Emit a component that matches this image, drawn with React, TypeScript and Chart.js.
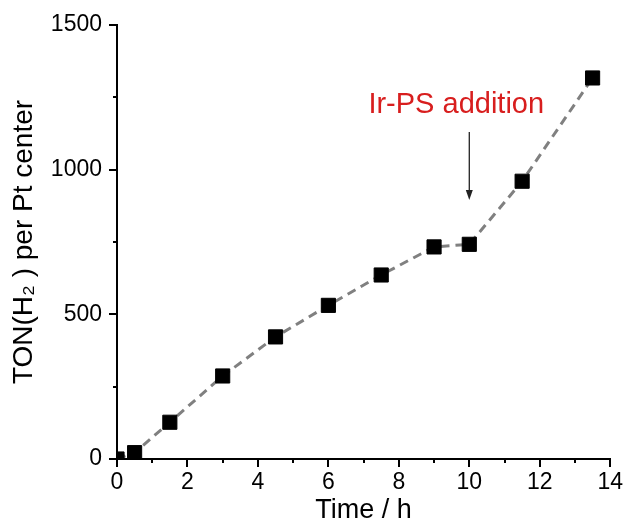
import React, { useEffect, useRef } from "react";
import { Chart, registerables } from "chart.js";

Chart.register(...registerables);

// Data
const timeH = [0, 0.5, 1.5, 3, 4.5, 6, 7.5, 9, 10, 11.5, 13.5];
const tonH2 = [0, 22, 127, 287, 422, 531, 636, 733, 742, 960, 1317];

// Axis tick settings
const xMajorTicks = [0, 2, 4, 6, 8, 10, 12, 14];
const xMinorTicks = [1, 3, 5, 7, 9, 11, 13];
const yMajorTicks = [0, 500, 1000, 1500];
const yMinorTicks = [250, 750, 1250];

// Annotation (data units)
const annotationText = "Ir-PS addition";
const annotationTextPos = { x: 9.63, y: 1223 };
const arrowX = 10;
const arrowFromY = 1130;
const arrowToY = 895;

const FONT = "'Liberation Sans', Arial, Helvetica, sans-serif";

const tickPlugin = {
  id: "customTicks",
  afterDraw(chart: any) {
    const ctx = chart.ctx;
    const xs = chart.scales.x;
    const ys = chart.scales.y;
    const area = chart.chartArea;
    ctx.save();
    ctx.strokeStyle = "#000";
    ctx.lineWidth = 2;
    ctx.beginPath();
    const drawX = (v: number, len: number) => {
      const px = Math.round(xs.getPixelForValue(v));
      ctx.moveTo(px, area.bottom);
      ctx.lineTo(px, area.bottom + len);
    };
    const drawY = (v: number, len: number) => {
      const py = Math.round(ys.getPixelForValue(v));
      ctx.moveTo(area.left, py);
      ctx.lineTo(area.left - len, py);
    };
    xMajorTicks.forEach((v) => drawX(v, 8));
    xMinorTicks.forEach((v) => drawX(v, 4));
    yMajorTicks.forEach((v) => drawY(v, 8));
    yMinorTicks.forEach((v) => drawY(v, 4));
    ctx.stroke();

    // annotation arrow
    const ax = xs.getPixelForValue(arrowX);
    const ay1 = ys.getPixelForValue(arrowFromY);
    const ay2 = ys.getPixelForValue(arrowToY);
    ctx.strokeStyle = "#222";
    ctx.fillStyle = "#222";
    ctx.lineWidth = 1.3;
    ctx.beginPath();
    ctx.moveTo(ax, ay1);
    ctx.lineTo(ax, ay2 - 8);
    ctx.stroke();
    ctx.beginPath();
    ctx.moveTo(ax - 3.5, ay2 - 10);
    ctx.lineTo(ax + 3.5, ay2 - 10);
    ctx.lineTo(ax, ay2);
    ctx.closePath();
    ctx.fill();

    // annotation text
    ctx.fillStyle = "#d81e1e";
    ctx.font = `29px ${FONT}`;
    ctx.textAlign = "center";
    ctx.textBaseline = "middle";
    ctx.fillText(
      annotationText,
      xs.getPixelForValue(annotationTextPos.x),
      ys.getPixelForValue(annotationTextPos.y)
    );
    ctx.restore();
  },
};

export default function App() {
  const canvasRef = useRef<HTMLCanvasElement | null>(null);

  useEffect(() => {
    if (!canvasRef.current) return;
    const chart = new Chart(canvasRef.current, {
      type: "line",
      data: {
        datasets: [
          {
            data: timeH.map((t, i) => ({ x: t, y: tonH2[i] })),
            borderColor: "#808080",
            borderWidth: 3,
            borderDash: [9, 6],
            pointStyle: "rect",
            pointRadius: 10,
            pointBorderWidth: 1,
            pointBackgroundColor: "#000",
            pointBorderColor: "#000",
            tension: 0,
            clip: 0,
          } as any,
        ],
      },
      options: {
        animation: false,
        responsive: true,
        maintainAspectRatio: false,
        layout: { padding: { top: 25, right: 14, left: 0, bottom: 0 } },
        plugins: { legend: { display: false }, tooltip: { enabled: false } },
        scales: {
          x: {
            type: "linear",
            min: 0,
            max: 14,
            ticks: {
              stepSize: 2,
              color: "#000",
              font: { family: FONT, size: 23 },
              padding: 2,
              maxRotation: 0,
              autoSkip: false,
              callback: (v: any) => String(v),
            },
            grid: {
              display: true,
              drawOnChartArea: false,
              drawTicks: true,
              tickLength: 8,
              color: "rgba(0,0,0,0)",
            },
            border: { display: true, color: "#000", width: 2 },
            title: {
              display: true,
              text: "Time / h",
              color: "#000",
              font: { family: FONT, size: 27, lineHeight: 1 },
              padding: { top: 0, bottom: 0 },
            },
            afterFit: (s: any) => {
              s.height = 65;
            },
          },
          y: {
            type: "linear",
            min: 0,
            max: 1500,
            ticks: {
              stepSize: 500,
              color: "#000",
              font: { family: FONT, size: 23 },
              padding: 7,
              callback: (v: any) => String(v),
            },
            grid: {
              display: true,
              drawOnChartArea: false,
              drawTicks: true,
              tickLength: 8,
              color: "rgba(0,0,0,0)",
            },
            border: { display: true, color: "#000", width: 2 },
            title: {
              display: true,
              text: "TON(H\u2082 ) per Pt center",
              color: "#000",
              font: { family: FONT, size: 28, lineHeight: 1 },
              padding: { top: 10, bottom: 0 },
            },
            afterFit: (s: any) => {
              s.width = 117;
            },
          },
        },
      },
      plugins: [tickPlugin],
    });
    return () => chart.destroy();
  }, []);

  return (
    <div style={{ position: "fixed", left: 0, top: 0, width: 625, height: 524, background: "#fff" }}>
      <canvas ref={canvasRef} />
    </div>
  );
}
